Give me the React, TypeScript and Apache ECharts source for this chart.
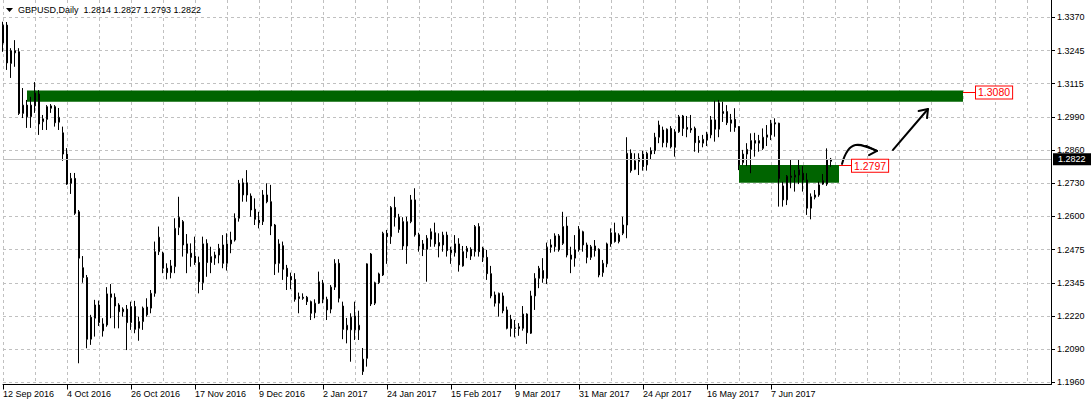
import React, { useEffect, useRef } from 'react';
import * as echarts from 'echarts';

const SYMBOL = 'GBPUSD';
const PERIOD = 'Daily';
const FIRST_DAY = '2016-09-12';
const SLOTS = 263; // bar slots shown, incl. the empty shift on the right

const OPEN = [
  1.3271, 1.3340, 1.3192, 1.3241, 1.3237, 1.2999, 1.3031, 1.2986, 1.3028, 1.3074,
  1.2967, 1.2976, 1.3028, 1.3025, 1.2965, 1.2924, 1.2842, 1.2729, 1.2748, 1.2619,
  1.2403, 1.2365, 1.2127, 1.2208, 1.2259, 1.2159, 1.2182, 1.2302, 1.2289, 1.2259,
  1.2233, 1.2243, 1.2191, 1.2253, 1.2169, 1.2195, 1.2251, 1.2247, 1.2304, 1.2465,
  1.2459, 1.2401, 1.2384, 1.2407, 1.2559, 1.2581, 1.2495, 1.2459, 1.2448, 1.2423,
  1.2345, 1.2497, 1.2423, 1.2440, 1.2452, 1.2491, 1.2420, 1.2495, 1.2510, 1.2594,
  1.2684, 1.2731, 1.2680, 1.2629, 1.2587, 1.2581, 1.2684, 1.2658, 1.2568, 1.2420,
  1.2488, 1.2401, 1.2369, 1.2358, 1.2291, 1.2289, 1.2289, 1.2272, 1.2229, 1.2266,
  1.2343, 1.2281, 1.2243, 1.2328, 1.2420, 1.2255, 1.2163, 1.2163, 1.2217, 1.2163,
  1.2002, 1.2053, 1.2456, 1.2266, 1.2345, 1.2375, 1.2536, 1.2523, 1.2636, 1.2598,
  1.2581, 1.2487, 1.2581, 1.2665, 1.2530, 1.2495, 1.2474, 1.2513, 1.2538, 1.2500,
  1.2491, 1.2529, 1.2472, 1.2461, 1.2495, 1.2410, 1.2465, 1.2474, 1.2465, 1.2562,
  1.2478, 1.2443, 1.2380, 1.2298, 1.2266, 1.2294, 1.2240, 1.2204, 1.2171, 1.2168,
  1.2169, 1.2224, 1.2150, 1.2294, 1.2362, 1.2392, 1.2362, 1.2482, 1.2484, 1.2526,
  1.2497, 1.2564, 1.2452, 1.2440, 1.2472, 1.2542, 1.2491, 1.2443, 1.2487, 1.2474,
  1.2384, 1.2418, 1.2495, 1.2538, 1.2504, 1.2536, 1.2568, 1.2845, 1.2783, 1.2813,
  1.2842, 1.2800, 1.2842, 1.2855, 1.2907, 1.2935, 1.2886, 1.2941, 1.2868, 1.2928,
  1.2989, 1.2945, 1.2941, 1.2941, 1.2894, 1.2884, 1.2896, 1.2916, 1.2974, 1.2938,
  1.3006, 1.3006, 1.2961, 1.2976, 1.2948, 1.2809, 1.2842, 1.2860, 1.2894, 1.2884,
  1.2864, 1.2907, 1.2916, 1.2963, 1.2961, 1.2719, 1.2665, 1.2757, 1.2752, 1.2761,
  1.2768, 1.2742, 1.2633, 1.2675, 1.2684, 1.2739, 1.2726, 1.2814,
];
const HIGH = [
  1.3353, 1.3352, 1.3251, 1.3282, 1.3251, 1.3097, 1.3051, 1.3063, 1.3120, 1.3089,
  1.2993, 1.3031, 1.3035, 1.3031, 1.3020, 1.2948, 1.2865, 1.2769, 1.2769, 1.2626,
  1.2448, 1.2375, 1.2221, 1.2279, 1.2276, 1.2208, 1.2328, 1.2340, 1.2304, 1.2266,
  1.2250, 1.2259, 1.2272, 1.2275, 1.2214, 1.2253, 1.2285, 1.2317, 1.2504, 1.2562,
  1.2465, 1.2420, 1.2433, 1.2594, 1.2677, 1.2587, 1.2533, 1.2497, 1.2523, 1.2446,
  1.2523, 1.2513, 1.2484, 1.2465, 1.2495, 1.2529, 1.2536, 1.2542, 1.2613, 1.2742,
  1.2748, 1.2780, 1.2690, 1.2671, 1.2619, 1.2703, 1.2729, 1.2723, 1.2572, 1.2513,
  1.2504, 1.2414, 1.2384, 1.2382, 1.2307, 1.2304, 1.2294, 1.2276, 1.2281, 1.2388,
  1.2356, 1.2291, 1.2336, 1.2436, 1.2436, 1.2272, 1.2209, 1.2227, 1.2272, 1.2237,
  1.2093, 1.2420, 1.2460, 1.2349, 1.2384, 1.2542, 1.2549, 1.2641, 1.2677, 1.2611,
  1.2598, 1.2600, 1.2684, 1.2710, 1.2538, 1.2510, 1.2529, 1.2555, 1.2577, 1.2536,
  1.2542, 1.2542, 1.2484, 1.2529, 1.2517, 1.2487, 1.2487, 1.2482, 1.2568, 1.2575,
  1.2484, 1.2472, 1.2410, 1.2311, 1.2307, 1.2307, 1.2253, 1.2221, 1.2201, 1.2189,
  1.2255, 1.2227, 1.2314, 1.2382, 1.2410, 1.2440, 1.2500, 1.2513, 1.2536, 1.2533,
  1.2619, 1.2600, 1.2484, 1.2529, 1.2564, 1.2546, 1.2500, 1.2491, 1.2510, 1.2478,
  1.2433, 1.2500, 1.2555, 1.2577, 1.2536, 1.2600, 1.2907, 1.2860, 1.2845, 1.2845,
  1.2855, 1.2851, 1.2868, 1.2924, 1.2971, 1.2948, 1.2941, 1.2950, 1.2938, 1.2993,
  1.2993, 1.2989, 1.2993, 1.2948, 1.2912, 1.2916, 1.2928, 1.2989, 1.3048, 1.3051,
  1.3044, 1.3031, 1.2997, 1.3019, 1.2950, 1.2858, 1.2884, 1.2922, 1.2924, 1.2916,
  1.2941, 1.2954, 1.2974, 1.2980, 1.2963, 1.2735, 1.2761, 1.2822, 1.2780, 1.2819,
  1.2796, 1.2768, 1.2690, 1.2703, 1.2735, 1.2765, 1.2864, 1.2827,
];
const LOW = [
  1.3237, 1.3167, 1.3136, 1.3179, 1.2993, 1.2981, 1.2943, 1.2943, 1.3001, 1.2916,
  1.2935, 1.2935, 1.3001, 1.2948, 1.2935, 1.2816, 1.2723, 1.2688, 1.2607, 1.2034,
  1.2345, 1.2092, 1.2105, 1.2137, 1.2178, 1.2137, 1.2175, 1.2208, 1.2169, 1.2169,
  1.2214, 1.2085, 1.2163, 1.2150, 1.2121, 1.2163, 1.2214, 1.2227, 1.2291, 1.2452,
  1.2382, 1.2358, 1.2362, 1.2382, 1.2529, 1.2446, 1.2382, 1.2407, 1.2414, 1.2304,
  1.2317, 1.2368, 1.2382, 1.2414, 1.2420, 1.2401, 1.2392, 1.2459, 1.2504, 1.2581,
  1.2658, 1.2658, 1.2600, 1.2568, 1.2555, 1.2568, 1.2652, 1.2529, 1.2375, 1.2384,
  1.2356, 1.2317, 1.2320, 1.2272, 1.2227, 1.2279, 1.2259, 1.2201, 1.2208, 1.2263,
  1.2266, 1.2201, 1.2227, 1.2317, 1.2269, 1.2127, 1.2111, 1.2040, 1.2124, 1.2124,
  1.1989, 1.2021, 1.2255, 1.2259, 1.2340, 1.2371, 1.2418, 1.2495, 1.2562, 1.2538,
  1.2472, 1.2418, 1.2575, 1.2523, 1.2465, 1.2448, 1.2349, 1.2484, 1.2484, 1.2443,
  1.2465, 1.2446, 1.2418, 1.2446, 1.2388, 1.2407, 1.2440, 1.2433, 1.2446, 1.2446,
  1.2425, 1.2356, 1.2285, 1.2253, 1.2214, 1.2227, 1.2165, 1.2137, 1.2134, 1.2140,
  1.2160, 1.2109, 1.2147, 1.2240, 1.2324, 1.2345, 1.2340, 1.2461, 1.2465, 1.2465,
  1.2491, 1.2443, 1.2382, 1.2407, 1.2465, 1.2465, 1.2420, 1.2433, 1.2446, 1.2366,
  1.2368, 1.2405, 1.2484, 1.2500, 1.2497, 1.2529, 1.2517, 1.2770, 1.2780, 1.2761,
  1.2778, 1.2778, 1.2819, 1.2842, 1.2884, 1.2868, 1.2868, 1.2864, 1.2832, 1.2924,
  1.2912, 1.2907, 1.2924, 1.2851, 1.2847, 1.2868, 1.2873, 1.2903, 1.2890, 1.2907,
  1.2966, 1.2954, 1.2928, 1.2928, 1.2780, 1.2800, 1.2796, 1.2768, 1.2832, 1.2851,
  1.2858, 1.2873, 1.2896, 1.2909, 1.2639, 1.2639, 1.2645, 1.2710, 1.2697, 1.2726,
  1.2697, 1.2607, 1.2590, 1.2667, 1.2677, 1.2723, 1.2719, 1.2793,
];
const CLOSE = [
  1.3340, 1.3194, 1.3241, 1.3233, 1.2999, 1.3031, 1.2986, 1.3031, 1.3078, 1.2958,
  1.2978, 1.3025, 1.3019, 1.2963, 1.2984, 1.2842, 1.2726, 1.2748, 1.2613, 1.2440,
  1.2365, 1.2127, 1.2212, 1.2259, 1.2191, 1.2186, 1.2302, 1.2289, 1.2255, 1.2233,
  1.2243, 1.2191, 1.2253, 1.2165, 1.2195, 1.2247, 1.2221, 1.2304, 1.2465, 1.2521,
  1.2401, 1.2384, 1.2410, 1.2555, 1.2598, 1.2491, 1.2459, 1.2443, 1.2423, 1.2349,
  1.2495, 1.2423, 1.2446, 1.2452, 1.2478, 1.2420, 1.2495, 1.2510, 1.2594, 1.2729,
  1.2731, 1.2684, 1.2626, 1.2590, 1.2577, 1.2684, 1.2658, 1.2564, 1.2418, 1.2495,
  1.2397, 1.2369, 1.2356, 1.2281, 1.2284, 1.2285, 1.2272, 1.2227, 1.2266, 1.2349,
  1.2281, 1.2240, 1.2328, 1.2420, 1.2285, 1.2165, 1.2181, 1.2212, 1.2163, 1.2181,
  1.2050, 1.2418, 1.2263, 1.2345, 1.2379, 1.2536, 1.2523, 1.2636, 1.2598, 1.2551,
  1.2487, 1.2581, 1.2665, 1.2530, 1.2487, 1.2474, 1.2517, 1.2542, 1.2495, 1.2487,
  1.2529, 1.2469, 1.2461, 1.2495, 1.2414, 1.2465, 1.2478, 1.2448, 1.2562, 1.2465,
  1.2443, 1.2380, 1.2294, 1.2266, 1.2304, 1.2237, 1.2169, 1.2169, 1.2168, 1.2175,
  1.2224, 1.2152, 1.2294, 1.2362, 1.2401, 1.2362, 1.2482, 1.2491, 1.2526, 1.2472,
  1.2562, 1.2452, 1.2436, 1.2472, 1.2551, 1.2491, 1.2443, 1.2484, 1.2469, 1.2375,
  1.2420, 1.2495, 1.2538, 1.2504, 1.2529, 1.2568, 1.2845, 1.2778, 1.2816, 1.2826,
  1.2793, 1.2845, 1.2855, 1.2907, 1.2954, 1.2886, 1.2938, 1.2870, 1.2928, 1.2986,
  1.2941, 1.2938, 1.2935, 1.2886, 1.2886, 1.2899, 1.2919, 1.2974, 1.2938, 1.3040,
  1.2999, 1.2963, 1.2974, 1.2945, 1.2800, 1.2842, 1.2860, 1.2894, 1.2884, 1.2894,
  1.2907, 1.2916, 1.2961, 1.2958, 1.2748, 1.2665, 1.2757, 1.2752, 1.2761, 1.2783,
  1.2742, 1.2633, 1.2677, 1.2684, 1.2723, 1.2726, 1.2819, 1.2822,
];

// right price scale as printed by the terminal (top to bottom)
const TICK_LABELS = ['1.3370', '1.3245', '1.3115', '1.2990', '1.2860', '1.2730',
  '1.2600', '1.2475', '1.2345', '1.2220', '1.2090', '1.1960'];
const Y_MIN = 1.1952;
const Y_MAX = 1.3437;

// drawn rectangles (support / resistance zones)
const ZONE_START_BAR = [6, 184];
const ZONE_END_BAR = [240, 209];
const ZONE_HIGH = [1.3087, 1.2800];
const ZONE_LOW = [1.3044, 1.2731];

// price labels attached to the zones
const LEVEL_PRICE = [1.3080, 1.2797];
const LEVEL_FROM_BAR = [240, 209];
const LEVEL_TO_BAR = [243, 212];

// hand drawn arrows, as [bar index, price]
const CURVE_ARROW = [[209.75, 1.2804], [211.5, 1.2900], [214, 1.2885], [218.5, 1.2854]];
const CURVE_HEAD = [[215.75, 1.2873], [218.5, 1.2854], [216.5, 1.2838]];
const STRAIGHT_ARROW = [[222.5, 1.2858], [231.25, 1.3016]];
const STRAIGHT_HEAD = [[228.9, 1.3008], [231.25, 1.3016], [231.0, 1.2981]];

const MONTHS = ['Jan', 'Feb', 'Mar', 'Apr', 'May', 'Jun', 'Jul', 'Aug', 'Sep', 'Oct', 'Nov', 'Dec'];
const FONT = '"Liberation Sans", Arial, sans-serif';

function weekdayLabels(start: string, count: number): string[] {
  const d = new Date(start + 'T00:00:00Z');
  const out: string[] = [];
  while (out.length < count) {
    const wd = d.getUTCDay();
    if (wd !== 0 && wd !== 6) {
      out.push(`${d.getUTCDate()} ${MONTHS[d.getUTCMonth()]} ${d.getUTCFullYear()}`);
    }
    d.setUTCDate(d.getUTCDate() + 1);
  }
  return out;
}

export default function App() {
  const ref = useRef<HTMLDivElement>(null);

  useEffect(() => {
    if (!ref.current) return;
    const chart = echarts.init(ref.current, null, { renderer: 'svg' });
    const n = OPEN.length;
    const categories = weekdayLabels(FIRST_DAY, SLOTS);
    const last = n - 1;
    const tickStep = (parseFloat(TICK_LABELS[0]) - parseFloat(TICK_LABELS[TICK_LABELS.length - 1])) / (TICK_LABELS.length - 1);
    const tickValues = TICK_LABELS.map((_, k) => parseFloat(TICK_LABELS[0]) - k * tickStep);
    const showDate = (i: number) => i % 16 === 0 && i < n;
    const f4 = (v: number) => v.toFixed(4);

    const zones = ZONE_START_BAR.map((s, k) => [
      { xAxis: s, yAxis: ZONE_HIGH[k] },
      { xAxis: ZONE_END_BAR[k], yAxis: ZONE_LOW[k] },
    ]);

    const levelLines = LEVEL_PRICE.map((p, k) => [
      {
        coord: [LEVEL_FROM_BAR[k], p],
        lineStyle: { color: '#ff0000', width: 1, type: 'solid' },
        label: {
          show: true,
          position: 'end',
          distance: 1,
          formatter: f4(p),
          color: '#ff0000',
          fontFamily: FONT,
          fontSize: 10.5,
          backgroundColor: '#ffffff',
          borderColor: '#ff0000',
          borderWidth: 1,
          padding: [1, 2, 0, 2],
        },
      },
      { coord: [LEVEL_TO_BAR[k], p] },
    ]);

    chart.setOption({
      animation: false,
      backgroundColor: '#ffffff',
      title: {
        text: `${SYMBOL},${PERIOD}  ${f4(OPEN[last])} ${f4(HIGH[last])} ${f4(LOW[last])} ${f4(CLOSE[last])}`,
        left: 18,
        top: 5,
        padding: 0,
        textStyle: { fontFamily: FONT, fontSize: 9, fontWeight: 'normal', color: '#000000' },
      },
      grid: { left: 3, right: 40, top: 0, bottom: 20.5, containLabel: false, outerBoundsMode: 'none' },
      xAxis: {
        type: 'category',
        data: categories,
        boundaryGap: false,
        axisLine: { show: true, onZero: false, lineStyle: { color: '#000000', width: 1 } },
        axisTick: {
          show: true,
          length: 5,
          interval: (i: number) => showDate(i),
          lineStyle: { color: '#000000' },
        },
        axisLabel: {
          interval: (i: number) => showDate(i),
          formatter: (v: string, i: number) => (i < n ? v : ''),
          align: 'left',
          margin: 5,
          fontFamily: FONT,
          fontSize: 9,
          color: '#000000',
        },
        splitLine: { show: true, interval: 7, lineStyle: { color: '#c0c0c0', width: 1, type: [3, 3] } },
      },
      yAxis: {
        type: 'value',
        position: 'right',
        min: Y_MIN,
        max: Y_MAX,
        scale: true,
        axisLine: { show: true, lineStyle: { color: '#000000', width: 1 } },
        axisTick: { show: true, length: 4, customValues: tickValues, lineStyle: { color: '#000000' } },
        axisLabel: {
          customValues: tickValues,
          formatter: (v: number) => {
            let best = 0;
            tickValues.forEach((t, k) => {
              if (Math.abs(t - v) < Math.abs(tickValues[best] - v)) best = k;
            });
            return TICK_LABELS[best];
          },
          margin: 6,
          fontFamily: FONT,
          fontSize: 9,
          color: '#000000',
        },
        splitLine: { show: true, lineStyle: { color: '#c0c0c0', width: 1, type: [3, 3] } },
      },
      series: [
        {
          type: 'candlestick',
          data: OPEN.map((o, i) => [o, CLOSE[i], LOW[i], HIGH[i]]),
          barWidth: 2,
          clip: false,
          itemStyle: {
            color: '#ffffff',
            color0: '#000000',
            borderColor: '#000000',
            borderColor0: '#000000',
            borderWidth: 1,
          },
          emphasis: { disabled: true },
          markArea: {
            silent: true,
            itemStyle: { color: '#006400', opacity: 1, borderWidth: 0 },
            data: zones,
          },
          markLine: {
            silent: true,
            symbol: ['none', 'none'],
            precision: 4,
            data: [
              {
                yAxis: CLOSE[last],
                lineStyle: { color: '#c0c0c0', width: 1, type: 'solid' },
                label: {
                  show: true,
                  position: 'end',
                  distance: 2,
                  formatter: f4(CLOSE[last]),
                  color: '#ffffff',
                  backgroundColor: '#000000',
                  fontFamily: FONT,
                  fontSize: 9,
                  padding: [2, 6, 1, 5],
                },
              },
              ...levelLines,
            ],
          },
        },
      ],
    });

    const x0 = chart.convertToPixel({ xAxisIndex: 0 }, 0) as number;
    const x100 = chart.convertToPixel({ xAxisIndex: 0 }, 100) as number;
    const sx = (x100 - x0) / 100;
    const P = (pt: number[]) => [x0 + sx * pt[0], chart.convertToPixel({ yAxisIndex: 0 }, pt[1]) as number];
    const c = CURVE_ARROW.map(P);
    const s = STRAIGHT_ARROW.map(P);
    const arrowStyle = { stroke: '#000000', lineWidth: 2, fill: 'none', lineCap: 'round', lineJoin: 'round' };

    chart.setOption({
      graphic: [
        {
          type: 'polygon',
          shape: { points: [[6, 8], [13, 8], [9.5, 12]] },
          style: { fill: '#000000' },
          silent: true,
        },
        {
          type: 'bezierCurve',
          shape: { x1: c[0][0], y1: c[0][1], cpx1: c[1][0], cpy1: c[1][1], cpx2: c[2][0], cpy2: c[2][1], x2: c[3][0], y2: c[3][1] },
          style: arrowStyle,
          silent: true,
        },
        { type: 'polyline', shape: { points: CURVE_HEAD.map(P) }, style: arrowStyle, silent: true },
        {
          type: 'line',
          shape: { x1: s[0][0], y1: s[0][1], x2: s[1][0], y2: s[1][1] },
          style: arrowStyle,
          silent: true,
        },
        { type: 'polyline', shape: { points: STRAIGHT_HEAD.map(P) }, style: arrowStyle, silent: true },
      ],
    });

    return () => chart.dispose();
  }, []);

  return (
    <div
      ref={ref}
      style={{ position: 'absolute', left: 0, top: 0, width: 1091, height: 405, background: '#ffffff' }}
    />
  );
}
